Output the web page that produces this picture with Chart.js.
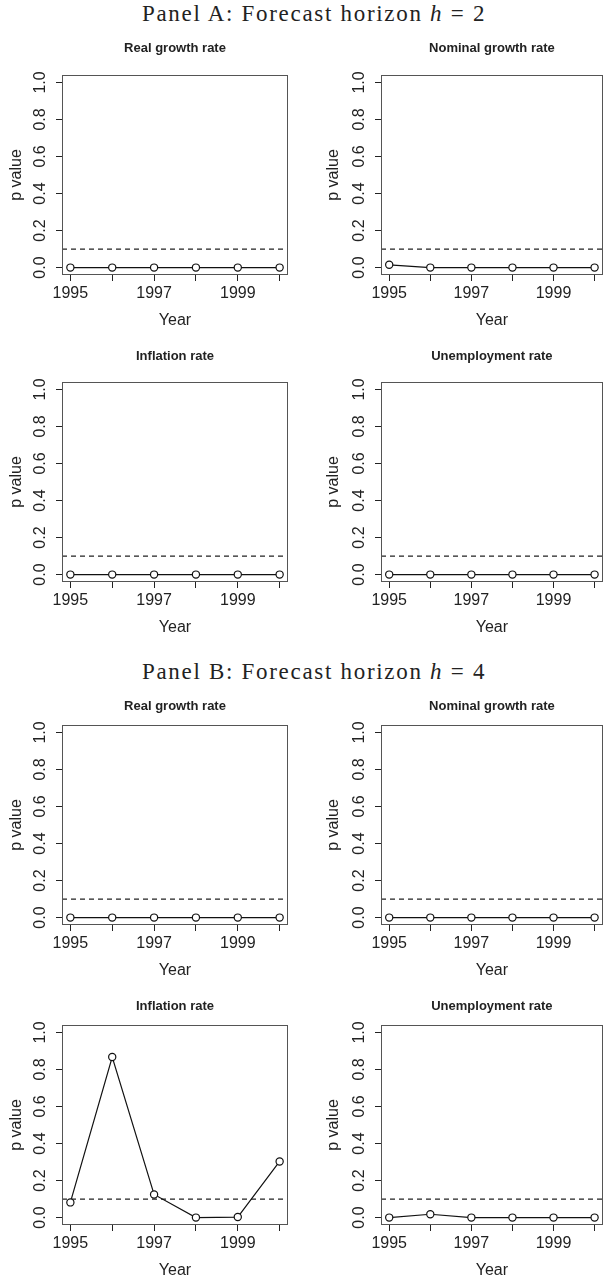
<!DOCTYPE html>
<html><head><meta charset="utf-8">
<script src="https://cdn.jsdelivr.net/npm/chart.js@4.4.1/dist/chart.umd.min.js"></script>
<style>
html,body{margin:0;padding:0;width:606px;height:1281px;overflow:hidden;background:#fff;}
canvas{position:absolute;}
.ph{position:absolute;left:0;width:628px;text-align:center;font-family:"Liberation Serif",serif;font-size:23px;letter-spacing:1.7px;color:#222;white-space:nowrap;line-height:23px;}
.ph i{font-style:italic;}
</style></head><body>
<div class="ph" id="ph0" style="top:2px"></div>
<div class="ph" id="ph1" style="top:660px"></div>
<canvas id="c0"></canvas><canvas id="c1"></canvas><canvas id="c2"></canvas><canvas id="c3"></canvas>
<canvas id="c4"></canvas><canvas id="c5"></canvas><canvas id="c6"></canvas><canvas id="c7"></canvas>
<script>
// ---- data ----
const years = [1995, 1996, 1997, 1998, 1999, 2000];
const xTickLabels = ['1995', '', '1997', '', '1999', ''];
const yTicks = [0, 0.2, 0.4, 0.6, 0.8, 1.0];
const threshold = 0.1;
const panelNames = ['Panel A: Forecast horizon ', 'Panel B: Forecast horizon '];
const horizons = [2, 4];
const seriesTitles = ['Real growth rate', 'Nominal growth rate', 'Inflation rate', 'Unemployment rate'];
const aReal = [0, 0, 0, 0, 0, 0];
const aNominal = [0.015, 0, 0, 0, 0, 0];
const aInflation = [0, 0, 0, 0, 0, 0];
const aUnemployment = [0, 0, 0, 0, 0, 0];
const bReal = [0, 0, 0, 0, 0, 0];
const bNominal = [0, 0, 0, 0, 0, 0];
const bInflation = [0.082, 0.867, 0.125, 0, 0.003, 0.303];
const bUnemployment = [0, 0.018, 0, 0, 0, 0];

// ---- layout ----
const xMin = 1994.8, xMax = 2000.2;
const rowFrameTop = [74.6, 381.9, 725, 1025];
const rowTitleGap = [26.6, 25.5, 18.3, 18.6];
const colCanvasLeft = [0, 306];
const colCanvasWidth = [300, 302];
const colFrameLeft = [62, 75];
const colFrameRight = [288, 300.4];
const colYTitleCenter = [17, 27.5];
const TOP = 40, FRAME = 200, BOTTOM = 60;
const FONT = 'Liberation Sans, Arial, sans-serif';
const INK = '#222';

document.getElementById('ph0').innerHTML = panelNames[0] + '<i>h</i> = ' + horizons[0];
document.getElementById('ph1').innerHTML = panelNames[1] + '<i>h</i> = ' + horizons[1];

const framePlugin = {
  id: 'frame',
  afterDraw(chart) {
    const {ctx, chartArea: a} = chart;
    ctx.save();
    ctx.strokeStyle = '#555';
    ctx.lineWidth = 1;
    const l = Math.round(a.left) + 0.5, t = Math.round(a.top) + 0.5;
    const r = Math.round(a.right) - 0.5, b = Math.round(a.bottom) - 0.5;
    ctx.strokeRect(l, t, r - l, b - t);
    ctx.restore();
  }
};

const panels = [
  {r: 0, c: 0, data: aReal, t: 0}, {r: 0, c: 1, data: aNominal, t: 1},
  {r: 1, c: 0, data: aInflation, t: 2}, {r: 1, c: 1, data: aUnemployment, t: 3},
  {r: 2, c: 0, data: bReal, t: 0}, {r: 2, c: 1, data: bNominal, t: 1},
  {r: 3, c: 0, data: bInflation, t: 2}, {r: 3, c: 1, data: bUnemployment, t: 3}
];

panels.forEach((p, k) => {
  const canvas = document.getElementById('c' + k);
  const W = colCanvasWidth[p.c], H = TOP + FRAME + BOTTOM;
  canvas.width = W; canvas.height = H;
  canvas.style.left = colCanvasLeft[p.c] + 'px';
  canvas.style.top = (rowFrameTop[p.r] - TOP) + 'px';
  const pb = rowTitleGap[p.r] - 7.8;
  const pt = TOP - 15.6 - pb;
  new Chart(canvas, {
    type: 'line',
    data: {
      datasets: [
        {
          data: years.map((y, i) => ({x: y, y: p.data[i]})),
          borderColor: '#111', borderWidth: 1.2, tension: 0,
          pointRadius: 3.6, pointBorderWidth: 1.2,
          pointBackgroundColor: '#fff', pointBorderColor: '#111'
        },
        {
          data: [{x: xMin, y: threshold}, {x: xMax, y: threshold}],
          borderColor: '#222', borderWidth: 1.2, borderDash: [5, 4], pointRadius: 0
        }
      ]
    },
    options: {
      responsive: false, animation: false, devicePixelRatio: 1,
      layout: {padding: {left: 0, right: W - colFrameRight[p.c], top: 0, bottom: 0}},
      plugins: {
        legend: {display: false}, tooltip: {enabled: false},
        title: {
          display: true, text: seriesTitles[p.t], fullSize: false, color: INK,
          font: {family: FONT, size: 13, weight: 'bold', lineHeight: 1.2},
          padding: {top: pt, bottom: pb}
        }
      },
      scales: {
        x: {
          type: 'linear', min: xMin, max: xMax,
          afterBuildTicks: s => { s.ticks = years.map(v => ({value: v})); },
          afterFit: s => { s.height = BOTTOM; },
          ticks: {autoSkip: false, maxRotation: 0, minRotation: 0, padding: 3, color: INK,
            font: {family: FONT, size: 16, lineHeight: 1.2},
            callback: (v, i) => xTickLabels[i]},
          grid: {display: true, drawOnChartArea: false, drawTicks: true, tickLength: 6, color: INK, lineWidth: 1},
          border: {display: false},
          title: {display: true, text: 'Year', color: INK,
            font: {family: FONT, size: 16, lineHeight: 1.2}, padding: {top: 0, bottom: 4.9}}
        },
        y: {
          type: 'linear', min: -0.04, max: 1.04,
          afterBuildTicks: s => { s.ticks = yTicks.map(v => ({value: v})); },
          afterFit: s => { s.width = colFrameLeft[p.c]; },
          ticks: {autoSkip: false, minRotation: 90, maxRotation: 90, crossAlign: 'center', padding: 4, color: INK,
            font: {family: FONT, size: 16, lineHeight: 1.2},
            callback: v => Number(v).toFixed(1)},
          grid: {display: true, drawOnChartArea: false, drawTicks: true, tickLength: 6, color: INK, lineWidth: 1},
          border: {display: false},
          title: {display: true, text: 'p value', color: INK,
            font: {family: FONT, size: 16, lineHeight: 1.2},
            padding: {top: colYTitleCenter[p.c] - 9.6, bottom: 0}}
        }
      }
    },
    plugins: [framePlugin]
  });
});
</script>
</body></html>
